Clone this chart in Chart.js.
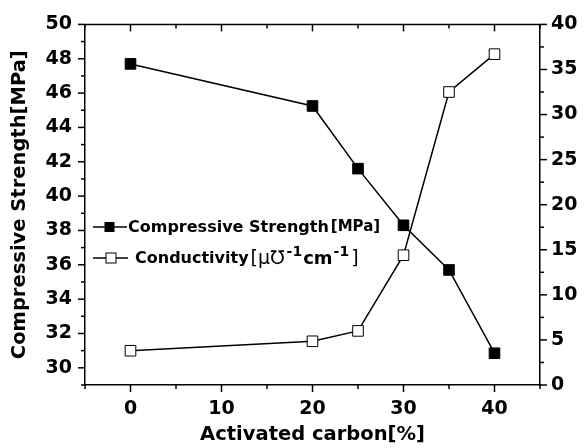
<!DOCTYPE html>
<html>
<head>
<meta charset="utf-8">
<script src="https://cdn.jsdelivr.net/npm/chart.js@4"></script>
<style>
  body { margin: 0; background: #fff; }
  #wrap { width: 588px; height: 448px; }
</style>
</head>
<body>
<div id="wrap"><canvas id="chart"></canvas></div>
<script>
// data
const carbon = [0, 20, 25, 30, 35, 40];
const strength = [47.7, 45.25, 41.6, 38.3, 35.7, 30.85];
const conductivity = [3.8, 4.85, 6.0, 14.4, 32.5, 36.7];

const xTicks = [0, 10, 20, 30, 40];
const leftTicks = [30, 32, 34, 36, 38, 40, 42, 44, 46, 48, 50];
const rightTicks = [0, 5, 10, 15, 20, 25, 30, 35, 40];

const FONT = "'DejaVu Sans', 'Liberation Sans', sans-serif";

// tick marks, top frame and legend drawn by hand
const framePlugin = {
  id: 'frame',
  afterDraw(chart) {
    const ctx = chart.ctx;
    const a = chart.chartArea;
    const { x, y, y1 } = chart.scales;
    ctx.save();
    ctx.strokeStyle = '#000';
    ctx.lineWidth = 1.5;

    function line(x1, y1_, x2, y2) {
      ctx.beginPath();
      ctx.moveTo(x1, y1_);
      ctx.lineTo(x2, y2);
      ctx.stroke();
    }

    // top border
    line(a.left, a.top, a.right, a.top);

    // x ticks (bottom outward, top inward)
    for (let v = -5; v <= 45; v += 5) {
      const px = x.getPixelForValue(v);
      const len = v % 10 === 0 ? 7 : 4;
      line(px, a.bottom, px, a.bottom + len);
      line(px, a.top, px, a.top + len);
    }
    // left ticks
    for (let v = 29; v <= 50; v += 1) {
      const py = y.getPixelForValue(v);
      const len = v % 2 === 0 ? 7 : 4;
      line(a.left - len, py, a.left, py);
    }
    // right ticks
    for (let v = 0; v <= 40; v += 2.5) {
      const py = y1.getPixelForValue(v);
      const len = v % 5 === 0 ? 7 : 4;
      line(a.right, py, a.right + len, py);
    }

    // legend
    ctx.textBaseline = 'middle';
    ctx.textAlign = 'left';
    ctx.fillStyle = '#000';

    // row 1
    let ly = 227;
    line(93, ly, 127, ly);
    ctx.fillRect(104.5, ly - 5, 10, 10);
    ctx.font = 'bold 16px ' + FONT;
    ctx.fillText('Compressive Strength', 128, ly + 1);
    let tx = 128 + ctx.measureText('Compressive Strength').width + 2;
    ctx.font = 'bold 15px ' + FONT;
    ctx.fillText('[MPa]', tx, ly);

    // row 2
    ly = 258;
    line(93, ly, 128, ly);
    ctx.fillStyle = '#fff';
    ctx.fillRect(106, ly - 5, 10, 10);
    ctx.lineWidth = 1;
    ctx.strokeRect(106, ly - 5, 10, 10);
    ctx.fillStyle = '#000';
    tx = 135;
    ctx.font = 'bold 16px ' + FONT;
    ctx.fillText('Conductivity', tx, ly + 1);
    tx += ctx.measureText('Conductivity').width + 2;
    ctx.font = '19px ' + FONT;
    ctx.fillText('[\u03bc\u2127', tx, ly + 1);
    tx += ctx.measureText('[\u03bc\u2127').width + 2;
    ctx.font = 'bold 14px ' + FONT;
    ctx.fillText('-1', tx, ly - 6);
    tx += ctx.measureText('-1').width + 1;
    ctx.font = 'bold 18px ' + FONT;
    ctx.fillText('cm', tx, ly + 1);
    tx += ctx.measureText('cm').width + 1;
    ctx.font = 'bold 14px ' + FONT;
    ctx.fillText('-1', tx, ly - 6);
    tx += ctx.measureText('-1').width + 2;
    ctx.font = '19px ' + FONT;
    ctx.fillText(']', tx, ly + 1);

    ctx.restore();
  }
};

const tickFont = { family: FONT, size: 19, weight: 'bold' };
const titleFont = { family: FONT, size: 19.5, weight: 'bold' };

new Chart(document.getElementById('chart'), {
  type: 'line',
  data: {
    datasets: [
      {
        label: 'Compressive Strength[MPa]',
        data: carbon.map((c, i) => ({ x: c, y: strength[i] })),
        yAxisID: 'y',
        borderColor: '#000',
        borderWidth: 1.5,
        backgroundColor: '#000',
        pointStyle: 'rect',
        pointRadius: 7.5,
        pointBorderWidth: 1,
        pointBackgroundColor: '#000',
        pointBorderColor: '#000',
        tension: 0
      },
      {
        label: 'Conductivity',
        data: carbon.map((c, i) => ({ x: c, y: conductivity[i] })),
        yAxisID: 'y1',
        borderColor: '#000',
        borderWidth: 1.5,
        backgroundColor: '#fff',
        pointStyle: 'rect',
        pointRadius: 7.5,
        pointBorderWidth: 1,
        pointBackgroundColor: '#fff',
        pointBorderColor: '#000',
        tension: 0
      }
    ]
  },
  options: {
    responsive: true,
    maintainAspectRatio: false,
    animation: false,
    layout: { padding: { top: 18, left: 0, right: 0, bottom: 0 } },
    plugins: {
      legend: { display: false },
      tooltip: { enabled: false }
    },
    scales: {
      x: {
        type: 'linear',
        min: -5,
        max: 45,
        afterBuildTicks: s => { s.ticks = xTicks.map(v => ({ value: v })); },
        afterFit: s => { s.height = 63; },
        grid: { display: false, drawTicks: false },
        border: { display: true, color: '#000', width: 1.5 },
        ticks: { color: '#000', font: tickFont, padding: 13, maxRotation: 0 },
        title: {
          display: true,
          text: 'Activated carbon[%]',
          color: '#000',
          font: titleFont,
          padding: { top: 0, bottom: 1 }
        }
      },
      y: {
        type: 'linear',
        position: 'left',
        min: 29,
        max: 50,
        afterBuildTicks: s => { s.ticks = leftTicks.map(v => ({ value: v })); },
        afterFit: s => { s.width = 85; },
        grid: { display: false, drawTicks: false },
        border: { display: true, color: '#000', width: 1.5 },
        ticks: { color: '#000', font: tickFont, padding: 13 },
        title: {
          display: true,
          text: 'Compressive Strength[MPa]',
          color: '#000',
          font: titleFont,
          padding: { top: 8, bottom: 0 }
        }
      },
      y1: {
        type: 'linear',
        position: 'right',
        min: 0,
        max: 40,
        afterBuildTicks: s => { s.ticks = rightTicks.map(v => ({ value: v })); },
        afterFit: s => { s.width = 48; },
        grid: { display: false, drawTicks: false },
        border: { display: true, color: '#000', width: 1.5 },
        ticks: { color: '#000', font: tickFont, padding: 11 }
      }
    }
  },
  plugins: [framePlugin]
});
</script>
</body>
</html>
